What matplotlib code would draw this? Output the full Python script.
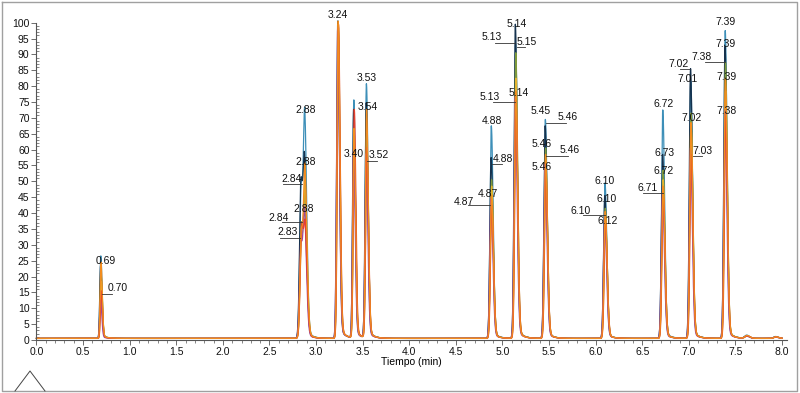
import matplotlib
matplotlib.use("Agg")
import matplotlib.pyplot as plt
from matplotlib.ticker import MultipleLocator
from matplotlib.lines import Line2D
import numpy as np

plt.rcParams["font.family"] = ["Liberation Sans", "DejaVu Sans"]

# retention times of the peaks (min)
retention = [0.69, 2.84, 2.88, 3.235, 3.405, 3.54, 4.88, 5.14, 5.46, 6.10, 6.72, 7.02, 7.39, 7.62, 7.93]
peak_sigma = [0.009, 0.015, 0.014, 0.012, 0.011, 0.012, 0.013, 0.013, 0.013, 0.013, 0.013, 0.013, 0.013, 0.02, 0.02]

# heights of each peak per trace (% of max)
trace_names = ["teal", "navy", "olive", "yellow", "purple", "red", "orange"]
trace_colors = ["#3d8fb8", "#15324e", "#7f9a3c", "#e2b42e", "#a0489a", "#e5412e", "#f28c1e"]
heights = {
    "teal":   [26, 48, 61, 100, 75, 80, 67, 93, 69, 49, 72, 81, 97, 1.0, 0.6],
    "navy":   [23, 50, 46, 100, 72, 74, 57, 99, 67, 45, 58, 85, 92, 0.8, 0.5],
    "olive":  [20, 36, 37, 99, 62, 64, 50, 90, 60, 41, 53, 71, 87, 0.8, 0.5],
    "yellow": [18, 32, 42, 99, 58, 57, 48, 82, 56, 39, 50, 66, 78, 0.7, 0.4],
    "purple": [12, 30, 34, 98, 60, 58, 44, 76, 55, 38, 46, 60, 72, 0.7, 0.4],
    "red":    [15, 36, 28, 99, 72, 60, 42, 75, 53, 37, 45, 58, 70, 0.8, 0.5],
    "orange": [24, 34, 47, 100, 66, 72, 45, 78, 58, 40, 48, 68, 82, 0.9, 0.5],
}
rt_shift = {"teal": 0.0, "navy": -0.002, "olive": 0.003, "yellow": 0.004,
            "purple": -0.003, "red": 0.005, "orange": 0.002}

# peak annotations: label, x, y, and optional leader line (x0, x1, y)
labels = [
    ("0.69", 0.746, 24.9, None), ("0.70", 0.874, 16.4, (0.703, 0.810, 14.5)),
    ("2.88", 2.892, 72.5, None), ("2.88", 2.892, 56.1, None),
    ("2.84", 2.741, 50.7, (2.645, 2.849, 49.2)), ("2.88", 2.870, 41.3, None),
    ("2.84", 2.602, 38.4, (2.634, 2.849, 37.2)), ("2.83", 2.698, 34.0, (2.613, 2.827, 32.1)),
    ("3.24", 3.235, 102.4, None), ("3.53", 3.546, 82.6, None),
    ("3.54", 3.557, 73.4, None), ("3.40", 3.407, 58.6, None),
    ("3.52", 3.675, 58.3, (3.546, 3.654, 56.4)),
    ("5.14", 5.155, 99.6, None), ("5.13", 4.887, 95.5, (4.919, 5.134, 93.6)),
    ("5.15", 5.263, 93.9, (5.155, 5.241, 92.3)), ("5.13", 4.866, 76.6, (4.898, 5.134, 75.0)),
    ("5.14", 5.177, 77.8, None), ("4.88", 4.887, 69.0, None),
    ("4.88", 5.005, 57.0, (4.887, 4.995, 55.5)), ("4.87", 4.844, 46.0, None),
    ("4.87", 4.587, 43.5, (4.630, 4.866, 42.5)),
    ("5.45", 5.413, 72.2, None), ("5.46", 5.703, 70.3, (5.467, 5.682, 68.4)),
    ("5.46", 5.424, 61.8, None), ("5.46", 5.724, 59.9, (5.467, 5.703, 58.0)),
    ("5.46", 5.424, 54.5, None),
    ("6.10", 6.099, 50.1, None), ("6.10", 6.121, 44.4, None),
    ("6.10", 5.842, 40.7, (5.864, 6.099, 39.4)), ("6.12", 6.132, 37.5, None),
    ("6.72", 6.733, 74.4, None), ("6.73", 6.744, 58.9, None),
    ("6.72", 6.733, 53.3, None), ("6.71", 6.561, 47.9, (6.508, 6.723, 46.3)),
    ("7.02", 6.894, 87.0, (6.905, 7.012, 85.4)), ("7.01", 6.990, 82.3, None),
    ("7.02", 7.033, 70.0, None), ("7.03", 7.151, 59.6, (7.044, 7.140, 58.0)),
    ("7.39", 7.398, 100.2, None), ("7.39", 7.398, 93.3, None),
    ("7.38", 7.140, 89.2, (7.172, 7.387, 87.6)), ("7.39", 7.409, 82.9, None),
    ("7.38", 7.409, 72.2, None),
]


def peak(t, t0, h, s):
    d = t - t0
    sig = np.where(d < 0, s, s * 1.5)
    g = np.exp(-0.5 * (d / sig) ** 2)
    tail = np.where(d > 0, np.exp(-d / 0.05) * (1 - g), 0.0) * 0.05
    return h * (g + tail)


t = np.linspace(0, 8.0, 8001)

fig = plt.figure(figsize=(8.0, 3.93), dpi=100)
ax = fig.add_axes([0.0456, 0.1349, 0.9378, 0.8074])

for name, color in zip(trace_names, trace_colors):
    y = np.full_like(t, 0.5)
    for rt, h, s in zip(retention, heights[name], peak_sigma):
        y += peak(t, rt + rt_shift[name], h, s)
    ax.plot(t, y, color=color, lw=0.9, clip_on=False)

for txt, x, y, line in labels:
    ax.text(x, y, txt, ha="center", va="center", fontsize=7.5, color="#111111", clip_on=False)
    if line is not None:
        ax.plot([line[0], line[1]], [line[2], line[2]], color="#333333", lw=0.6, clip_on=False)

ax.set_xlim(0, 8.05)
ax.set_ylim(0, 100)
ax.spines["top"].set_visible(False)
ax.spines["right"].set_visible(False)
for sp in ("left", "bottom"):
    ax.spines[sp].set_color("#555555")
    ax.spines[sp].set_linewidth(0.8)

ax.xaxis.set_major_locator(MultipleLocator(0.5))
ax.xaxis.set_minor_locator(MultipleLocator(0.1))
ax.yaxis.set_major_locator(MultipleLocator(5))
ax.yaxis.set_minor_locator(MultipleLocator(1))
ax.xaxis.set_major_formatter(plt.FuncFormatter(lambda v, p: "%.1f" % v))
ax.tick_params(axis="both", which="major", length=3.5, width=0.6, color="#555555",
               labelsize=7.5, pad=1.5, labelcolor="#111111")
ax.tick_params(axis="x", which="minor", length=2, width=0.5, color="#555555")
ax.tick_params(axis="y", which="minor", direction="in", length=2, width=0.5, color="#555555")
ax.set_xlabel("Tiempo (min)", fontsize=7.5, labelpad=0)

# outer frame and the little triangle at the bottom left
W, H = 800.0, 393.0
frame_x = [2 / W, 797 / W, 797 / W, 2 / W, 2 / W]
frame_y = [1 - 2 / H, 1 - 2 / H, 1 - 391 / H, 1 - 391 / H, 1 - 2 / H]
fig.add_artist(Line2D(frame_x, frame_y, transform=fig.transFigure, color="#a0a0a0", lw=1.0))
fig.add_artist(Line2D([15 / W, 30 / W, 45 / W], [1 - 391 / H, 1 - 371 / H, 1 - 391 / H],
                      transform=fig.transFigure, color="#444444", lw=0.7))

fig.savefig("out.png", dpi=100)
